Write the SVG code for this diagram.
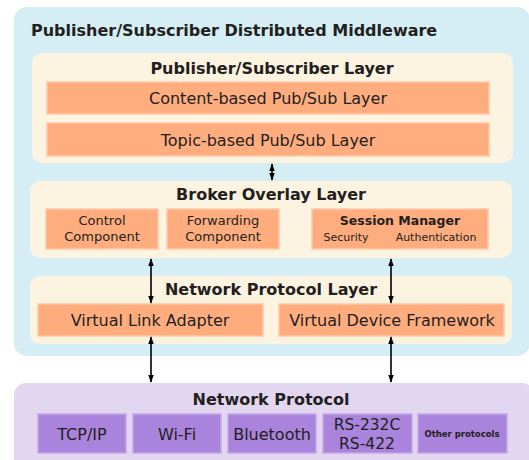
<svg xmlns="http://www.w3.org/2000/svg" width="529" height="460" viewBox="0 0 529 460">
<style>
text{font-family:"DejaVu Sans",Verdana,sans-serif;fill:#231f20;text-anchor:middle}
.t{font-weight:bold;font-size:16px}
.h{font-weight:bold;font-size:16px}
.m{font-size:16px}
.s{font-size:13px}
.xs{font-size:11px}
.layer{fill:#fdf3e1}
.o{fill:#ffad7f;stroke:#ffc9a6;stroke-width:1.5}
.p{fill:#a983dc;stroke:#c3a8e8;stroke-width:1.5}
.c{stroke:#000;stroke-width:1.6;fill:none;marker-start:url(#a);marker-end:url(#a)}
</style>
<defs>
<marker id="a" viewBox="0 0 10 10" refX="9" refY="5" markerWidth="8" markerHeight="8" markerUnits="userSpaceOnUse" orient="auto-start-reverse">
<path d="M0,1.5 L10,5 L0,8.5 z" fill="#000"/>
</marker>
</defs>
<g id="middleware">
<rect x="14" y="7" width="516" height="349" rx="13" fill="#d5edf4"/>
<text class="t" x="31" y="36" style="text-anchor:start">Publisher/Subscriber Distributed Middleware</text>
</g>
<g id="pubsub-layer">
<rect class="layer" x="32" y="53" width="481" height="110" rx="10"/>
<text class="h" x="272" y="74">Publisher/Subscriber Layer</text>
</g>
<g id="content-based">
<rect class="o" x="47" y="82" width="442" height="32"/>
<text class="m" x="268" y="104">Content-based Pub/Sub Layer</text>
</g>
<g id="topic-based">
<rect class="o" x="47" y="123" width="442" height="33"/>
<text class="m" x="268" y="146">Topic-based Pub/Sub Layer</text>
</g>
<g id="broker-layer">
<rect class="layer" x="30" y="181" width="482" height="77" rx="10"/>
<text class="h" x="271" y="200">Broker Overlay Layer</text>
</g>
<g id="control">
<rect class="o" x="46" y="209" width="112" height="40"/>
<text class="s" x="102" y="225">Control</text>
<text class="s" x="102" y="241">Component</text>
</g>
<g id="forwarding">
<rect class="o" x="167" y="209" width="112" height="40"/>
<text class="s" x="223" y="225">Forwarding</text>
<text class="s" x="223" y="241">Component</text>
</g>
<g id="session">
<rect class="o" x="312" y="209" width="176" height="40"/>
<text class="s" x="400" y="225" style="font-weight:bold;font-size:12.5px">Session Manager</text>
<text class="xs" x="346" y="241">Security</text>
<text class="xs" x="436" y="241">Authentication</text>
</g>
<g id="netproto-layer">
<rect class="layer" x="30" y="276" width="482" height="68" rx="10"/>
<text class="h" x="271" y="295">Network Protocol Layer</text>
</g>
<g id="vla">
<rect class="o" x="38" y="304" width="225" height="32"/>
<text class="m" x="150" y="326">Virtual Link Adapter</text>
</g>
<g id="vdf">
<rect class="o" x="279" y="304" width="225" height="32"/>
<text class="m" x="392" y="326">Virtual Device Framework</text>
</g>
<g id="network-protocol">
<rect x="14" y="383" width="520" height="90" rx="12" fill="#e3d6f1"/>
<text class="h" x="271" y="405">Network Protocol</text>
</g>
<g id="tcpip">
<rect class="p" x="38" y="414" width="88" height="39"/>
<text class="m" x="82" y="440">TCP/IP</text>
</g>
<g id="wifi">
<rect class="p" x="133" y="414" width="88" height="39"/>
<text class="m" x="177" y="440">Wi-Fi</text>
</g>
<g id="bluetooth">
<rect class="p" x="228" y="414" width="88" height="39"/>
<text class="m" x="272" y="440">Bluetooth</text>
</g>
<g id="rs">
<rect class="p" x="323" y="414" width="89" height="39"/>
<text class="m" x="367" y="430" style="font-size:15.5px">RS-232C</text>
<text class="m" x="367" y="449" style="font-size:15.5px">RS-422</text>
</g>
<g id="other">
<rect class="p" x="418" y="414" width="89" height="39"/>
<text x="462" y="437" style="font-size:8.5px;font-weight:bold">Other protocols</text>
</g>
<g id="connectors">
<line class="c" x1="272" y1="164" x2="272" y2="180"/>
<line class="c" x1="151" y1="259" x2="151" y2="303"/>
<line class="c" x1="391" y1="259" x2="391" y2="303"/>
<line class="c" x1="151" y1="337" x2="151" y2="382"/>
<line class="c" x1="391" y1="337" x2="391" y2="382"/>
</g>
</svg>
